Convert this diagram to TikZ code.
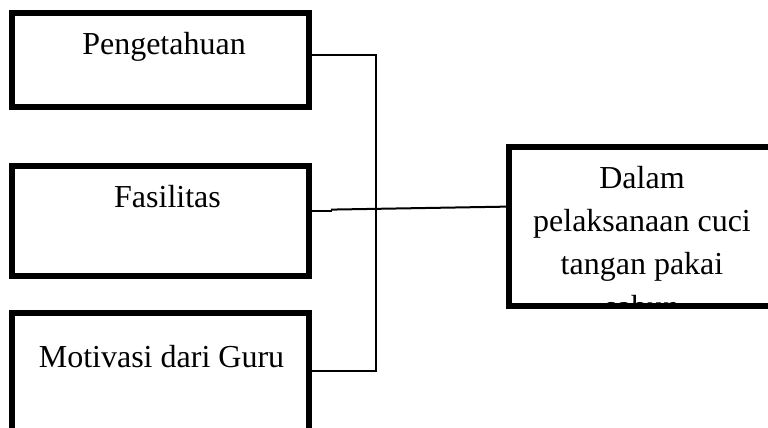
\documentclass[tikz,border=0pt]{standalone}
\usepackage{fontspec}
\setmainfont{Liberation Serif}
\begin{document}
\begin{tikzpicture}[x=1pt,y=-1pt,
  box/.style={draw, line width=6pt, inner sep=0pt, outer sep=0pt},
  lbl/.style={inner sep=0pt, outer sep=0pt, font=\fontsize{32}{43}\selectfont},
  wire/.style={line width=2pt}]
\clip (0,0) rectangle (768,428);
\fill[white] (0,0) rectangle (768,428);
% boxes
\node[box, minimum width=297pt, minimum height=93pt] (b1) at (160.5,60) {};
\node[box, minimum width=297pt, minimum height=110pt] (b2) at (160.5,220.5) {};
\node[box, minimum width=297pt, minimum height=127pt] (b3) at (160.5,376.5) {};
\node[box, minimum width=267.5pt, minimum height=159pt] (rb) at (642.25,226.5) {};
% texts
\node[lbl, anchor=base] (t1) at (164,55) {Pengetahuan};
\node[lbl, anchor=base] (t2) at (167.5,207) {Fasilitas};
\node[lbl, anchor=base] (t3) at (161.5,367) {Motivasi dari Guru};
\begin{scope}
  \clip (rb.north west) rectangle (rb.south east);
  \node[lbl, anchor=base, align=center] (t4) at (642,317) {Dalam\\pelaksanaan cuci\\tangan pakai\\sabun};
\end{scope}
% connectors
\coordinate (j1) at (376,54.7);
\coordinate (j3) at (376,370.7);
\coordinate (j2) at (332,210.7);
\coordinate (k) at (331,209.6);
\coordinate (ry) at (0,206.6);
\draw[wire] (b1.east |- j1) -- (j1) -- (j3) -- (b3.east |- j3);
\draw[wire] (b2.east |- j2) -- (j2);
\draw[wire] (k) -- (rb.west |- ry);
\end{tikzpicture}
\end{document}
